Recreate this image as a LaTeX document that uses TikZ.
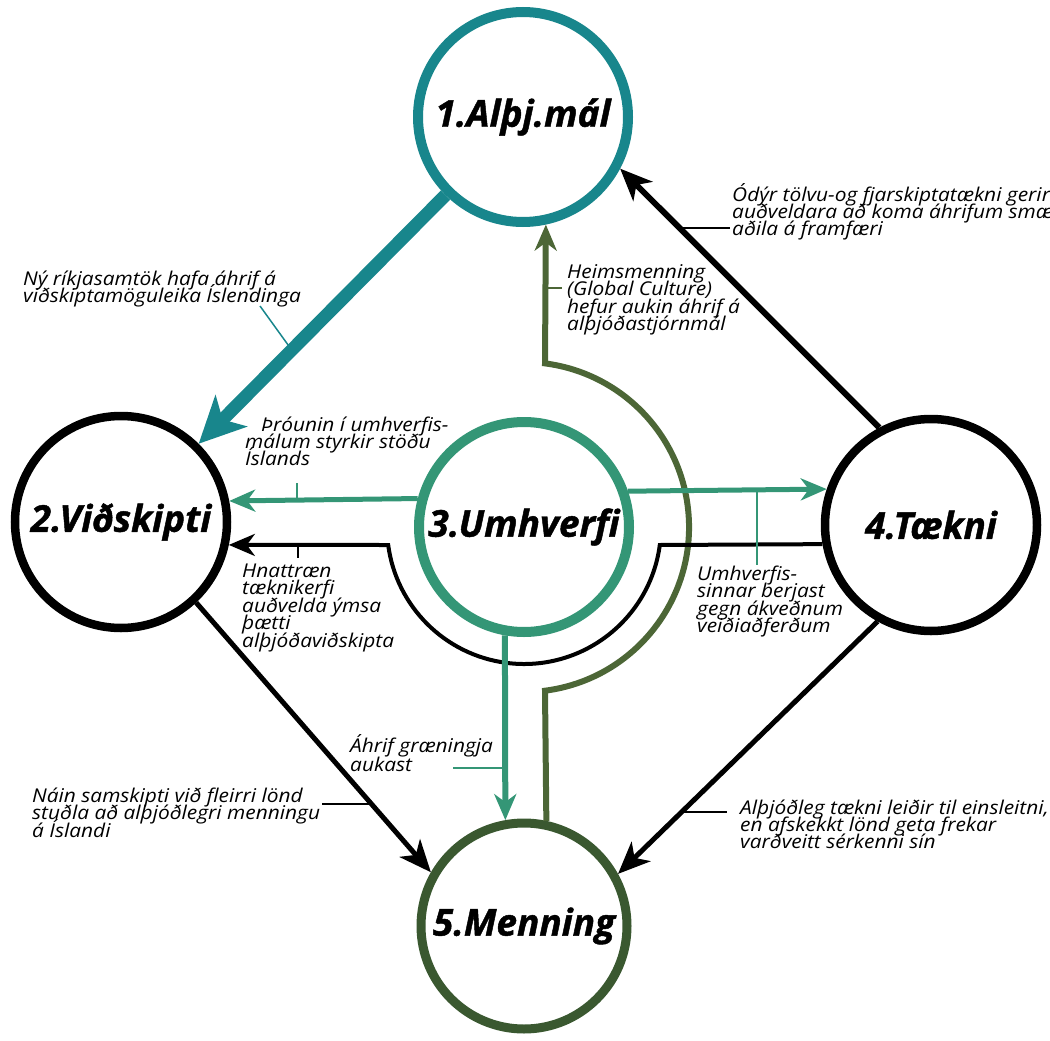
\documentclass[tikz,border=0pt]{standalone}
\usepackage{fontspec}
\setmainfont{Open Sans}[BoldItalicFeatures={FakeBold=1.2}]
\newfontfamily\lblfont{Open Sans}[FakeStretch=1.1]
\usetikzlibrary{arrows.meta}
\definecolor{tealA}{RGB}{24,134,140}
\definecolor{greenC}{RGB}{52,150,118}
\definecolor{oliveM}{RGB}{58,88,48}
\definecolor{oliveL}{RGB}{76,102,54}
\newcommand\mtext[2][17.5pt]{\vtop{\baselineskip=#1\lineskiplimit=-100pt\relax #2}}
\newcommand\lline[1]{\hbox{#1}}
\tikzset{
  bigcirc/.style={circle, draw, fill=white, inner sep=0pt, minimum size=210pt,
    font=\fontsize{37}{40}\selectfont\bfseries\itshape},
  lbl/.style={anchor=base west, inner sep=0pt, font=\lblfont\fontsize{19}{17.5}\selectfont\itshape},
  leader/.style={line width=1.5pt},
  bhead/.style={-{Stealth[length=32pt,width=27pt,inset=9pt]}},
  ghead/.style={-{Stealth[length=26pt,width=22pt,inset=8pt]}},
}
\begin{document}
\begin{tikzpicture}[x=1pt,y=-1pt]
\useasboundingbox (0,0) rectangle (1050,1041);
\clip (0,0) rectangle (1050,1041);

% circles
\node[bigcirc, draw=tealA, line width=10pt] (c1) at (523,117) {1.Alþj.mál};
\node[bigcirc, draw=black, line width=8.5pt, minimum size=212pt] (c2) at (121,522) {2.Viðskipti};
\node[bigcirc, draw=greenC, line width=10pt] (c3) at (524,527) {3.Umhverfi};
\node[bigcirc, draw=black, line width=8.5pt, minimum size=212pt] (c4) at (931,525) {4.Tækni};
\node[bigcirc, draw=oliveM, line width=9pt, minimum size=206pt] (c5) at (524,926) {5.Menning};

% helper coordinates
\coordinate (oA) at (545,690.7);
\coordinate (fR) at (659.8,545);

% C: olive, Menning -> Alþj.mál around Umhverfi
\draw[oliveL, line width=6pt, ghead] (c5.78.74) -- (oA)
  arc[start angle=82.7, end angle=-82.7, radius=165] -- (c1.-78.46);

% F: black, Tækni -> Viðskipti below Umhverfi
\draw[black, line width=4pt, ghead] (c4.190.48) -- (fR)
  arc[start angle=7.55, end angle=172.45, radius=137] -- (c2.-12.07);

% A: thick teal
\draw[tealA, line width=13pt, -{Stealth[length=46pt,width=44pt,inset=12pt]}] (c1) -- (c2);
% B
\draw[black, line width=6pt, bhead] (c4.118) -- (c1.-28);
% D, E, G teal-green
\draw[greenC, line width=5pt, ghead] (c3.165.8) -- (c2.11.54);
\draw[greenC, line width=5pt, ghead] (c3.19.66) -- (c4.161.45);
\draw[greenC, line width=6pt, ghead] (c3.260.05) -- (c5.100.18);
% H, I
\draw[black, line width=5pt, bhead] (c2.-47) -- (c5.150);
\draw[black, line width=5pt, bhead] (c4.241) -- (c5.29);

% leaders
\coordinate (lA1) at (260,306); \coordinate (lA2) at (291,349);
\coordinate (lB1) at (681,228); \coordinate (lB2) at (730,228);
\coordinate (lC1) at (545,288); \coordinate (lC2) at (562,288);
\coordinate (lD1) at (297,483); \coordinate (lD2) at (297,500);
\coordinate (lE1) at (757,490); \coordinate (lE2) at (757,565);
\coordinate (lF1) at (298,545); \coordinate (lF2) at (298,558);
\coordinate (lG1) at (453,768); \coordinate (lG2) at (505,768);
\coordinate (lH1) at (322,804); \coordinate (lH2) at (371,804);
\coordinate (lI1) at (681,812); \coordinate (lI2) at (727,812);
\draw[leader, tealA] (lA1) -- (lA2);
\draw[leader] (lB1) -- (lB2);
\draw[leader, oliveL] (lC1) -- (lC2);
\draw[leader, greenC] (lD1) -- (lD2);
\draw[leader, greenC] (lE1) -- (lE2);
\draw[leader] (lF1) -- (lF2);
\draw[leader, greenC] (lG1) -- (lG2);
\draw[leader] (lH1) -- (lH2);
\draw[leader] (lI1) -- (lI2);

% labels
\node[lbl] (t1) at (23,285) {\mtext[17pt]{\lline{Ný ríkjasamtök hafa áhrif á}\lline{viðskiptamöguleika Íslendinga}}};
\node[lbl] (t2) at (732,201) {\mtext[17pt]{\lline{Ódýr tölvu-og fjarskiptatækni gerir}\lline{auðveldara að koma áhrifum smærri}\lline{aðila á framfæri}}};
\node[lbl] (t3) at (567,278) {\mtext{\lline{Heimsmenning}\lline{(Global Culture)}\lline{hefur aukin áhrif á}\lline{alþjóðastjórnmál}}};
\node[lbl] (t4) at (245,431) {\mtext[17pt]{\lline{\hspace*{16pt}Þróunin í umhverfis-}\lline{málum styrkir stöðu}\lline{Íslands}}};
\node[lbl] (t5) at (242,577) {\mtext{\lline{Hnattræn}\lline{tæknikerfi}\lline{auðvelda ýmsa}\lline{þætti}\lline{alþjóðaviðskipta}}};
\node[lbl] (t6) at (697,580) {\mtext{\lline{Umhverfis-}\lline{sinnar berjast}\lline{gegn ákveðnum}\lline{veiðiaðferðum}}};
\node[lbl] (t7) at (350,752) {\mtext[19pt]{\lline{Áhrif græningja}\lline{aukast}}};
\node[lbl] (t8) at (32,802) {\mtext{\lline{Náin samskipti við fleirri lönd}\lline{stuðla að alþjóðlegri menningu}\lline{á Íslandi}}};
\node[lbl] (t9) at (740,814) {\mtext[17pt]{\lline{Alþjóðleg tækni leiðir til einsleitni,}\lline{en afskekkt lönd geta frekar}\lline{varðveitt sérkenni sín}}};
\end{tikzpicture}
\end{document}
